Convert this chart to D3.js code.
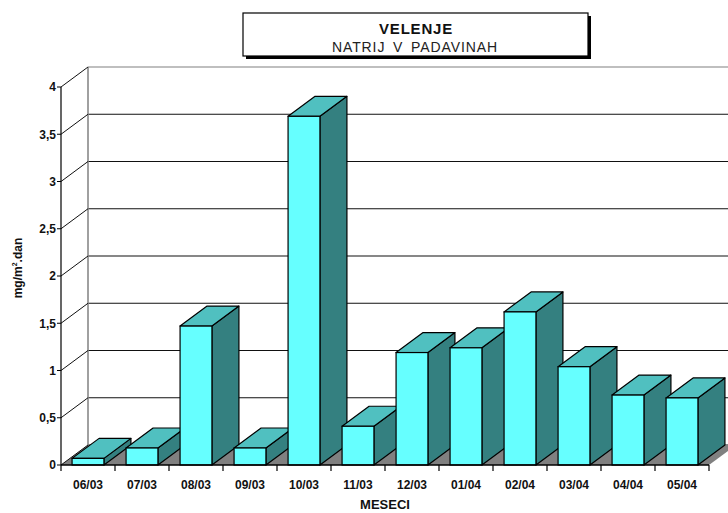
<!DOCTYPE html>
<html>
<head>
<meta charset="utf-8">
<script src="https://cdn.jsdelivr.net/npm/d3@7"></script>
<style>
  html, body { margin: 0; padding: 0; background: #ffffff; }
  svg { display: block; font-family: "Liberation Sans", Arial, sans-serif; }
</style>
</head>
<body>
<svg id="chart" width="728" height="513"></svg>
<script>
// Monthly sodium deposition in precipitation, Velenje
const categories = ["06/03", "07/03", "08/03", "09/03", "10/03", "11/03",
                    "12/03", "01/04", "02/04", "03/04", "04/04", "05/04"];
const values = [0.07, 0.18, 1.47, 0.18, 3.69, 0.41, 1.19, 1.24, 1.62, 1.04, 0.74, 0.71];
const yTicks = [0, 0.5, 1, 1.5, 2, 2.5, 3, 3.5, 4];
const yTickLabels = ["0", "0,5", "1", "1,5", "2", "2,5", "3", "3,5", "4"];

const titleText = "VELENJE";
const subtitleText = "NATRIJ V PADAVINAH";
const yTitle = "mg/m";
const xTitle = "MESECI";

const W = 728, H = 513;
const plotL = 61, plotR = 709, plotB = 465, plotT = 87;
const depthX = 27, depthY = -20;

const svg = d3.select("#chart");

const x = d3.scaleBand()
  .domain(categories)
  .range([plotL, plotR])
  .paddingInner(0.41)
  .paddingOuter(0.205);

const y = d3.scaleLinear().domain([0, 4]).range([plotB, plotT]);

const colFront = "#66ffff", colTop = "#50c0c0", colSide = "#348080", colFloor = "#808080";
const pts = a => a.map(p => p.join(",")).join(" ");

// back wall grid lines
const grid = svg.append("g");
grid.selectAll("line.h")
  .data(yTicks)
  .join("line")
  .attr("x1", plotL + depthX).attr("x2", W)
  .attr("y1", d => y(d) + depthY).attr("y2", d => y(d) + depthY)
  .attr("stroke", (d, i) => i === yTicks.length - 1 ? "#808080" : "#111")
  .attr("stroke-width", 1.1);

// back wall left edge
grid.append("line")
  .attr("x1", plotL + depthX).attr("x2", plotL + depthX)
  .attr("y1", y(4) + depthY).attr("y2", y(0) + depthY)
  .attr("stroke", "#808080").attr("stroke-width", 1.5);

// floor
svg.append("polygon")
  .attr("points", pts([[plotL, plotB], [plotR, plotB], [plotR + depthX, plotB + depthY], [plotL + depthX, plotB + depthY]]))
  .attr("fill", colFloor);

// diagonals from the value axis to the wall
svg.append("g").selectAll("line")
  .data(yTicks)
  .join("line")
  .attr("x1", plotL).attr("x2", plotL + depthX)
  .attr("y1", d => y(d)).attr("y2", d => y(d) + depthY)
  .attr("stroke", "#111").attr("stroke-width", 1);

// 3D bars
const bars = svg.append("g").selectAll("g")
  .data(categories.map((c, i) => ({ c, v: values[i] })))
  .join("g");

bars.each(function (d) {
  const g = d3.select(this);
  const x0 = x(d.c), x1 = x0 + x.bandwidth();
  const y0 = y(0), y1 = y(d.v);
  // side
  g.append("polygon")
    .attr("points", pts([[x1, y1], [x1 + depthX, y1 + depthY], [x1 + depthX, y0 + depthY], [x1, y0]]))
    .attr("fill", colSide).attr("stroke", "#000").attr("stroke-width", 1.2).attr("stroke-linejoin", "round");
  // top
  g.append("polygon")
    .attr("points", pts([[x0, y1], [x0 + depthX, y1 + depthY], [x1 + depthX, y1 + depthY], [x1, y1]]))
    .attr("fill", colTop).attr("stroke", "#000").attr("stroke-width", 1.2).attr("stroke-linejoin", "round");
  // front
  g.append("rect")
    .attr("x", x0).attr("y", y1)
    .attr("width", x.bandwidth()).attr("height", y0 - y1)
    .attr("fill", colFront).attr("stroke", "#000").attr("stroke-width", 1.2);
});

// value axis
const ya = svg.append("g");
ya.append("line")
  .attr("x1", plotL).attr("x2", plotL).attr("y1", y(4)).attr("y2", y(0))
  .attr("stroke", "#000").attr("stroke-width", 1.2);
ya.selectAll("line.t").data(yTicks).join("line")
  .attr("class", "t")
  .attr("x1", plotL - 4).attr("x2", plotL)
  .attr("y1", d => y(d)).attr("y2", d => y(d))
  .attr("stroke", "#000");
ya.selectAll("text").data(yTicks).join("text")
  .attr("x", plotL - 5).attr("y", d => y(d)).attr("dy", "0.36em")
  .attr("text-anchor", "end")
  .attr("font-size", 12).attr("font-weight", "bold").attr("fill", "#111")
  .text((d, i) => yTickLabels[i]);

// category axis
const xa = svg.append("g");
xa.append("line")
  .attr("x1", plotL).attr("x2", plotR).attr("y1", plotB).attr("y2", plotB)
  .attr("stroke", "#000").attr("stroke-width", 1.4);
const bounds = categories.map(c => x(c) - x.paddingInner() * x.step() / 2).concat([plotR]);
xa.selectAll("line.t").data(bounds).join("line")
  .attr("class", "t")
  .attr("x1", d => d).attr("x2", d => d)
  .attr("y1", plotB).attr("y2", plotB + 6)
  .attr("stroke", "#000").attr("stroke-width", 1.2);
xa.selectAll("text").data(categories).join("text")
  .attr("x", d => x(d) + x.bandwidth() / 2).attr("y", 489)
  .attr("text-anchor", "middle")
  .attr("font-size", 12).attr("font-weight", "bold").attr("fill", "#111")
  .text(d => d);

// axis titles
svg.append("text")
  .attr("x", 385).attr("y", 509)
  .attr("text-anchor", "middle")
  .attr("font-size", 13).attr("font-weight", "bold").attr("fill", "#111")
  .text(xTitle);

const yt = svg.append("text")
  .attr("transform", "translate(22,268) rotate(-90)")
  .attr("text-anchor", "middle")
  .attr("font-size", 12).attr("font-weight", "bold").attr("fill", "#111");
yt.append("tspan").text(yTitle);
yt.append("tspan").attr("font-size", 7).attr("dy", -5).text("2");
yt.append("tspan").attr("dy", 5).text(".dan");

// title box
svg.append("rect")
  .attr("x", 246).attr("y", 16).attr("width", 345).attr("height", 43)
  .attr("fill", "#000");
svg.append("rect")
  .attr("x", 243).attr("y", 13).attr("width", 345).attr("height", 43)
  .attr("fill", "#fff").attr("stroke", "#000").attr("stroke-width", 1.2);
svg.append("text")
  .attr("x", 416).attr("y", 33.5)
  .attr("text-anchor", "middle")
  .attr("font-size", 15).attr("font-weight", "bold").attr("letter-spacing", 0.8).attr("fill", "#111")
  .text(titleText);
svg.append("text")
  .attr("x", 415).attr("y", 52)
  .attr("text-anchor", "middle")
  .attr("font-size", 14).attr("letter-spacing", 0.9).attr("word-spacing", 3).attr("fill", "#222")
  .text(subtitleText);
</script>
</body>
</html>
